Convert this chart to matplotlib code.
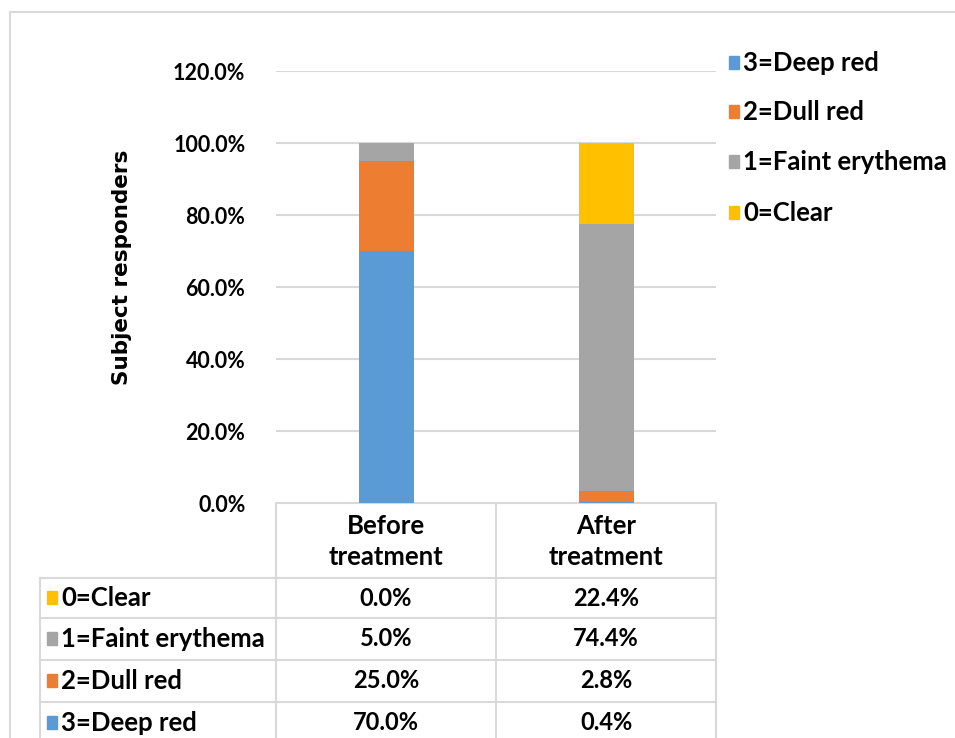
import matplotlib.pyplot as plt
from matplotlib.patches import Rectangle

categories = ["Before\ntreatment", "After\ntreatment"]
series = ["0=Clear", "1=Faint erythema", "2=Dull red", "3=Deep red"]
clear = [0.0, 22.4]
faint = [5.0, 74.4]
dull = [25.0, 2.8]
deep = [70.0, 0.4]
colors = ["#FFC000", "#A5A5A5", "#ED7D31", "#5B9BD5"]
yticks = [0, 20, 40, 60, 80, 100, 120]

values = [clear, faint, dull, deep]

plt.rcParams['font.family'] = ['Lato', 'DejaVu Sans']
plt.rcParams['font.weight'] = 'bold'
FS_TICK = 15.5
FS_TXT = 18.5
FS_NUM = 17

W, H = 955, 738
fig = plt.figure(figsize=(W / 100, H / 100), dpi=100)

# overlay in pixel coords for table, legend, border
ov = fig.add_axes([0, 0, 1, 1])
ov.set_xlim(0, W)
ov.set_ylim(H, 0)
ov.axis("off")

# plot area
L, R, T, B = 276, 716, 71, 503
ax = fig.add_axes([L / W, 1 - B / H, (R - L) / W, (B - T) / H])
ax.set_xlim(-0.5, len(categories) - 0.5)
ax.set_ylim(0, 120)

x = range(len(categories))
bottom = [0.0] * len(categories)
# stack from deep red upwards
for vals, col in zip(values[::-1], colors[::-1]):
    ax.bar(x, vals, 0.25, bottom=bottom, color=col, zorder=3)
    bottom = [b + v for b, v in zip(bottom, vals)]

ax.set_yticks(yticks)
ax.set_yticklabels([f"{t:.1f}%" for t in yticks], fontsize=FS_TICK, fontweight="bold")
ax.tick_params(axis="y", length=0, pad=22)
ax.set_xticks([])
ax.grid(axis="y", color="#D9D9D9", linewidth=1.5, zorder=0)
for s in ax.spines.values():
    s.set_visible(False)

ov.text(122, 267, "Subject responders", rotation=90, ha="center", va="center",
        fontsize=15.5, fontweight="bold", family="DejaVu Sans")

# outer chart border
ov.plot([10, 10], [12, H], color="#D9D9D9", lw=1.5)
ov.plot([10, W], [12, 12], color="#D9D9D9", lw=1.5)

# data table
gc = "#D9D9D9"
col_w = (R - L) / len(categories)
col_edges = [L + i * col_w for i in range(len(categories) + 1)]
row_edges = [578, 618, 660, 702, 744]
tl = 40
ov.plot([L, R], [B, B], color=gc, lw=1.5)
for xe in col_edges:
    ov.plot([xe, xe], [B, row_edges[-1]], color=gc, lw=1.5)
ov.plot([tl, tl], [row_edges[0], row_edges[-1]], color=gc, lw=1.5)
for ye in row_edges:
    ov.plot([tl, R], [ye, ye], color=gc, lw=1.5)

for i, c in enumerate(categories):
    ov.text((col_edges[i] + col_edges[i + 1]) / 2, (B + row_edges[0]) / 2 + 1, c,
            ha="center", va="center", fontsize=FS_TXT, fontweight="bold", linespacing=1.32)

for r, (name, vals, col) in enumerate(zip(series, values, colors)):
    yc = (row_edges[r] + row_edges[r + 1]) / 2
    ov.add_patch(Rectangle((47, yc - 7), 10, 13, color=col))
    ov.text(61, yc, name, ha="left", va="center", fontsize=FS_TXT, fontweight="bold")
    for i, v in enumerate(vals):
        ov.text((col_edges[i] + col_edges[i + 1]) / 2, yc, f"{v:.1f}%",
                ha="center", va="center", fontsize=FS_NUM, fontweight="bold")

# legend (reverse order)
leg_y = [63, 112, 162, 213]
for yy, name, col in zip(leg_y, series[::-1], colors[::-1]):
    ov.add_patch(Rectangle((729, yy - 7), 10, 13, color=col))
    ov.text(743, yy, name, ha="left", va="center", fontsize=FS_TXT, fontweight="bold")

fig.savefig("out.png", dpi=100)
